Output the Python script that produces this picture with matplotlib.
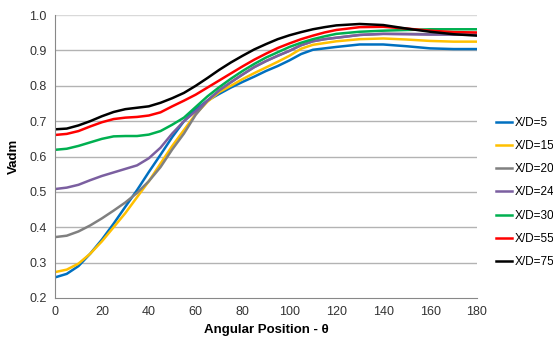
import matplotlib.pyplot as plt
import numpy as np

# Angular positions (degrees)
theta = [0, 5, 10, 15, 20, 25, 30, 35, 40, 45, 50, 55, 60, 65, 70, 75, 80, 85, 90,
         95, 100, 105, 110, 115, 120, 130, 140, 150, 160, 170, 180]

# Vadm for each X/D station
xd5 = [0.258, 0.268, 0.29, 0.325, 0.365, 0.41, 0.458, 0.505, 0.556, 0.605, 0.655, 0.70, 0.733,
       0.758, 0.777, 0.795, 0.811, 0.826, 0.842, 0.856, 0.872, 0.89, 0.902, 0.906, 0.91,
       0.917, 0.917, 0.912, 0.906, 0.904, 0.904]
xd15 = [0.273, 0.28, 0.297, 0.325, 0.36, 0.40, 0.44, 0.485, 0.53, 0.58, 0.63, 0.675, 0.72,
        0.755, 0.782, 0.80, 0.819, 0.836, 0.852, 0.868, 0.885, 0.905, 0.916, 0.921, 0.926,
        0.932, 0.934, 0.931, 0.927, 0.925, 0.925]
xd20 = [0.372, 0.376, 0.388, 0.405, 0.425, 0.447, 0.47, 0.497, 0.53, 0.57, 0.62, 0.665, 0.718,
        0.758, 0.787, 0.81, 0.832, 0.853, 0.87, 0.885, 0.899, 0.915, 0.926, 0.932, 0.936,
        0.944, 0.947, 0.947, 0.946, 0.945, 0.945]
xd24 = [0.508, 0.512, 0.52, 0.533, 0.545, 0.555, 0.565, 0.575, 0.595, 0.625, 0.665, 0.70, 0.728,
        0.758, 0.787, 0.81, 0.832, 0.853, 0.87, 0.885, 0.899, 0.915, 0.926, 0.932, 0.936,
        0.944, 0.947, 0.946, 0.945, 0.945, 0.945]
xd30 = [0.619, 0.622, 0.63, 0.64, 0.65, 0.657, 0.658, 0.658, 0.662, 0.672, 0.69, 0.71, 0.74,
        0.77, 0.796, 0.82, 0.842, 0.862, 0.88, 0.895, 0.91, 0.922, 0.932, 0.94, 0.947,
        0.953, 0.956, 0.958, 0.96, 0.96, 0.96]
xd55 = [0.661, 0.664, 0.672, 0.685, 0.697, 0.706, 0.71, 0.712, 0.716, 0.725, 0.742, 0.758, 0.775,
        0.795, 0.815, 0.835, 0.855, 0.874, 0.891, 0.907, 0.92, 0.932, 0.942, 0.951, 0.958,
        0.966, 0.967, 0.962, 0.956, 0.952, 0.951]
xd75 = [0.677, 0.679, 0.688, 0.70, 0.714, 0.726, 0.734, 0.738, 0.742, 0.752, 0.765, 0.78, 0.80,
        0.822, 0.845, 0.866, 0.885, 0.903, 0.918, 0.932, 0.943, 0.952, 0.96, 0.966, 0.971,
        0.975, 0.972, 0.962, 0.953, 0.946, 0.942]

series = [xd5, xd15, xd20, xd24, xd30, xd55, xd75]
labels = ['X/D=5', 'X/D=15', 'X/D=20', 'X/D=24', 'X/D=30', 'X/D=55', 'X/D=75']
colors = ['#0070C0', '#FFC000', '#808080', '#7B5FA0', '#00B050', '#FF0000', '#000000']

plt.rcParams['font.family'] = ['Liberation Sans', 'DejaVu Sans']

fig = plt.figure(figsize=(5.53, 3.44), dpi=100)
ax = fig.add_axes([0.0995, 0.134, 0.763, 0.822])

# grid lines
for v in np.arange(0.3, 1.01, 0.1):
    ax.axhline(v, color='#d9d9d9' if v > 0.95 else '#b3b3b3', linewidth=1, zorder=0)

for y, lab, c in zip(series, labels, colors):
    ax.plot(theta, y, color=c, linewidth=1.8, label=lab, solid_joinstyle='round')

ax.set_xlim(0, 180)
ax.set_ylim(0.2, 1.0)
ax.set_xticks(range(0, 181, 20))
ax.set_yticks(np.arange(0.2, 1.01, 0.1))
ax.set_yticklabels(['%.1f' % v for v in np.arange(0.2, 1.01, 0.1)])

for s in ['top', 'right']:
    ax.spines[s].set_visible(False)
ax.spines['left'].set_color('#888888')
ax.spines['bottom'].set_color('#888888')
ax.tick_params(length=0, labelsize=9, colors='#333333', pad=6)

ax.set_xlabel('Angular Position - θ', fontsize=9.5, fontweight='bold', labelpad=4,
              family=['Liberation Sans', 'DejaVu Sans'])
ax.set_ylabel('Vadm', fontsize=9.5, fontweight='bold', labelpad=7)

ax.legend(loc='center left', bbox_to_anchor=(1.045, 0.373), frameon=False,
          fontsize=8.5, handlelength=1.4, handletextpad=0.15, labelspacing=0.95,
          borderaxespad=0, borderpad=0)

fig.savefig('out.png', dpi=100)
